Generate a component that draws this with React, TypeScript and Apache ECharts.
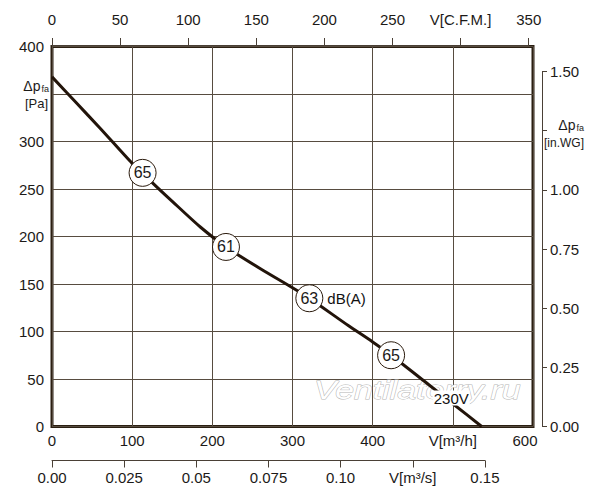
import React, { useEffect, useRef } from "react";
import * as echarts from "echarts";

// Fan curve: volume flow [m³/h] vs static pressure [Pa]
const flow = [0, 30, 60, 100, 113, 126, 150, 185, 217, 260, 300, 321, 370, 400, 423, 470, 500, 536];
const pressure = [368, 341, 314, 277, 267, 256, 237, 210, 189, 166, 146, 135, 106, 89, 75, 44, 24, 0];

// Noise levels dB(A) along the curve
const noiseFlow = [113, 217, 321, 423];
const noisePressure = [267, 189, 135, 75];
const noiseDb = [65, 61, 63, 65];

// Voltage label position
const voltageLabel = "230V";
const voltagePoint = [498, 30];

// Axis ranges
const flowMax = 600; // m³/h
const paMax = 400;
const cfmMax = 350;
const m3sMax = 0.15;
const inwgMax = 1.5;
const CFM_TO_M3H = 1.69901;
const INWG_TO_PA = 249.089;

const FONT = "Liberation Sans, Arial, sans-serif";
const TXT = "#1c1a18";
const AXC = "#4a4036";

export default function App() {
  const ref = useRef<HTMLDivElement>(null);

  useEffect(() => {
    document.body.style.margin = "0";
    if (!ref.current) return;
    const chart = echarts.init(ref.current, undefined, { renderer: "svg" });

    const gLeft = 52;
    const gTop = 46.5;
    const gW = 481;
    const gH = 380;
    const gBottom = gTop + gH;

    const cfmW = gW * ((cfmMax * CFM_TO_M3H) / flowMax);
    const m3sW = gW * ((m3sMax * 3600) / flowMax);
    const inwgH = gH * ((inwgMax * INWG_TO_PA) / paMax);

    const hiddenAxis = (gridIndex: number) => ({
      gridIndex,
      show: false,
      type: "value" as const,
      min: 0,
      max: 1,
    });

    const option: any = {
      animation: false,
      textStyle: { fontFamily: FONT },
      grid: [
        {
          left: gLeft,
          top: gTop,
          width: gW,
          height: gH,
          show: true,
          borderColor: "#2b1f12",
          borderWidth: 3,
          backgroundColor: "transparent",
        },
        { left: gLeft, top: 35, width: cfmW, height: 10 },
        { left: gLeft, top: 450.5, width: m3sW, height: 10 },
        { left: 542, top: gBottom - inwgH, width: 1, height: inwgH },
      ],
      xAxis: [
        {
          gridIndex: 0,
          type: "value",
          min: 0,
          max: flowMax,
          interval: 100,
          position: "bottom",
          axisLine: { show: false },
          axisTick: { show: false },
          splitLine: { show: true, lineStyle: { color: "#574c40", width: 1 } },
          axisLabel: {
            margin: 6,
            fontSize: 15,
            color: TXT,
            fontFamily: FONT,
            formatter: (v: number) =>
              v === 500 ? "V[m³/h]" : v === 600 ? "{r|600}" : String(v),
            rich: {
              r: { fontSize: 15, color: TXT, fontFamily: FONT, padding: [0, 16, 0, 0] },
            },
          },
        },
        {
          gridIndex: 1,
          type: "value",
          min: 0,
          max: cfmMax,
          interval: 50,
          position: "top",
          axisLine: { show: true, lineStyle: { color: AXC, width: 1 } },
          axisTick: { show: true, length: 7, lineStyle: { color: AXC } },
          splitLine: { show: false },
          axisLabel: {
            margin: 8,
            fontSize: 15,
            color: TXT,
            fontFamily: FONT,
            formatter: (v: number) => (v === 300 ? "V[C.F.M.]" : String(v)),
          },
        },
        {
          gridIndex: 2,
          type: "value",
          min: 0,
          max: m3sMax,
          interval: 0.025,
          position: "bottom",
          axisLine: { show: true, lineStyle: { color: AXC, width: 1 } },
          axisTick: { show: true, length: 7, lineStyle: { color: AXC } },
          splitLine: { show: false },
          axisLabel: {
            margin: 9,
            fontSize: 15,
            color: TXT,
            fontFamily: FONT,
            showMaxLabel: true,
            formatter: (v: number) => {
              const r = Math.round(v * 1000);
              if (r === 0) return "0.00";
              if (r === 25) return "0.025";
              if (r === 50) return "0.05";
              if (r === 75) return "0.075";
              if (r === 100) return "0.10";
              if (r === 125) return "V[m³/s]";
              if (r === 150) return "0.15";
              return "";
            },
          },
        },
        hiddenAxis(3),
      ],
      yAxis: [
        {
          gridIndex: 0,
          type: "value",
          min: 0,
          max: paMax,
          interval: 50,
          axisLine: { show: false },
          axisTick: { show: false },
          splitLine: { show: true, lineStyle: { color: "#574c40", width: 1 } },
          axisLabel: {
            margin: 8,
            fontSize: 15,
            color: TXT,
            fontFamily: FONT,
            formatter: (v: number) => (v === 350 ? "" : String(v)),
          },
        },
        hiddenAxis(1),
        hiddenAxis(2),
        {
          gridIndex: 3,
          type: "value",
          min: 0,
          max: inwgMax,
          interval: 0.25,
          position: "right",
          axisLine: { show: true, lineStyle: { color: AXC, width: 1 } },
          axisTick: { show: true, length: 5, lineStyle: { color: AXC } },
          splitLine: { show: false },
          axisLabel: {
            margin: 7,
            fontSize: 15,
            color: TXT,
            fontFamily: FONT,
            formatter: (v: number) => (Math.abs(v - 1.25) < 1e-6 ? "" : v.toFixed(2)),
          },
        },
      ],
      graphic: [
        {
          type: "text",
          x: 314,
          y: 390,
          scaleX: 1.3,
          z: 1,
          silent: true,
          style: {
            text: "Ventilatorry.ru",
            font: "italic 26px Liberation Sans, Arial, sans-serif",
            fill: "#ffffff",
            stroke: "#b5b5b5",
            lineWidth: 0.9,
            align: "left",
            verticalAlign: "middle",
          },
        },
        {
          type: "text",
          x: 49,
          y: 86,
          style: {
            text: "{a|Δp}{b|fa}",
            align: "right",
            verticalAlign: "middle",
            fill: TXT,
            rich: {
              a: { fontSize: 14, fontFamily: FONT, fill: TXT, color: TXT },
              b: { fontSize: 9, fontFamily: FONT, fill: TXT, color: TXT, padding: [6, 0, 0, 1] },
            },
          },
        },
        {
          type: "text",
          x: 48,
          y: 103,
          style: {
            text: "[Pa]",
            font: "13px Liberation Sans, Arial, sans-serif",
            align: "right",
            verticalAlign: "middle",
            fill: TXT,
          },
        },
        {
          type: "text",
          x: 584,
          y: 125,
          style: {
            text: "{a|Δp}{b|fa}",
            align: "right",
            verticalAlign: "middle",
            fill: TXT,
            rich: {
              a: { fontSize: 14, fontFamily: FONT, fill: TXT, color: TXT },
              b: { fontSize: 9, fontFamily: FONT, fill: TXT, color: TXT, padding: [5, 0, 0, 1] },
            },
          },
        },
        {
          type: "text",
          x: 584,
          y: 143,
          style: {
            text: "[in.WG]",
            font: "12px Liberation Sans, Arial, sans-serif",
            align: "right",
            verticalAlign: "middle",
            fill: TXT,
          },
        },
      ],
      series: [
        {
          type: "line",
          xAxisIndex: 0,
          yAxisIndex: 0,
          data: flow.map((f, i) => [f, pressure[i]]),
          smooth: 0.25,
          symbol: "none",
          lineStyle: { color: "#22140a", width: 3 },
          z: 3,
        },
        {
          type: "scatter",
          xAxisIndex: 0,
          yAxisIndex: 0,
          data: noiseFlow.map((f, i) => [f, noisePressure[i], noiseDb[i]]),
          symbol: "circle",
          symbolSize: 27,
          itemStyle: { color: "#ffffff", borderColor: "#2a1a0c", borderWidth: 1, opacity: 1 },
          label: {
            show: true,
            position: "inside",
            fontSize: 16,
            color: TXT,
            fontFamily: FONT,
            formatter: (p: any) => String(p.value[2]),
          },
          z: 4,
        },
        {
          type: "scatter",
          xAxisIndex: 0,
          yAxisIndex: 0,
          symbolSize: 2,
          itemStyle: { color: "rgba(0,0,0,0)" },
          z: 5,
          data: [
            {
              value: [noiseFlow[2], noisePressure[2]],
              label: {
                show: true,
                position: "right",
                distance: 17,
                formatter: "dB(A)",
                fontSize: 15,
                color: "#111111",
                opacity: 1,
                textBorderWidth: 0,
                fontFamily: FONT,
              },
            },
            {
              value: voltagePoint,
              label: {
                show: true,
                position: "inside",
                formatter: voltageLabel,
                fontSize: 15,
                color: "#111111",
                opacity: 1,
                textBorderWidth: 0,
                fontFamily: FONT,
                backgroundColor: "#ffffff",
                padding: [0, 1],
              },
            },
          ],
        },
      ],
    };

    chart.setOption(option);
    return () => chart.dispose();
  }, []);

  return <div ref={ref} style={{ width: 600, height: 500 }} />;
}
